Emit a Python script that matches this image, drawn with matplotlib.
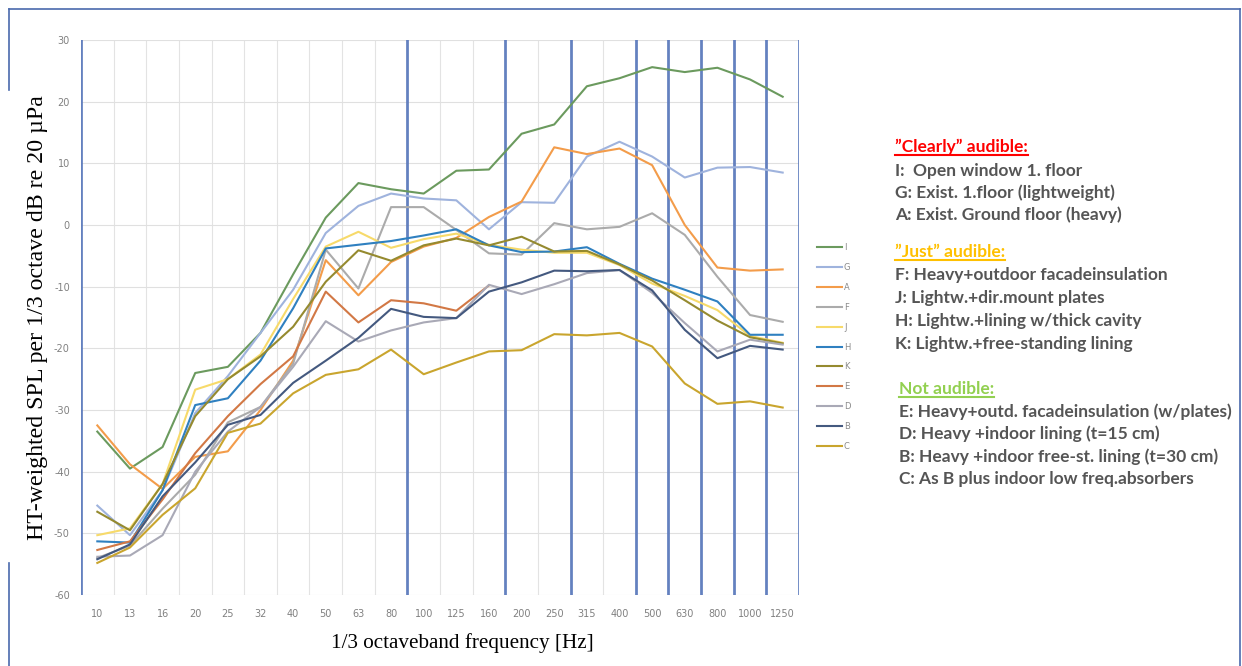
import numpy as np
import matplotlib
matplotlib.use("Agg")
import matplotlib.pyplot as plt
from matplotlib.lines import Line2D

plt.rcParams["axes.unicode_minus"] = False

freqs = ["10", "13", "16", "20", "25", "32", "40", "50", "63", "80", "100", "125",
         "160", "200", "250", "315", "400", "500", "630", "800", "1000", "1250"]

# HT-weighted SPL per 1/3 octave band
I = [-33.5, -39.5, -36, -24, -23, -17.5, -8, 1.2, 6.8, 5.8, 5.1, 8.8, 9.0, 14.8, 16.3, 22.5, 23.8, 25.6, 24.8, 25.5, 23.6, 20.8]
G = [-45.5, -50.3, -43, -30.5, -24.5, -17.5, -10.5, -1.3, 3.1, 5.1, 4.3, 4.0, -0.7, 3.7, 3.6, 11.1, 13.5, 11.1, 7.7, 9.3, 9.4, 8.5]
A = [-32.5, -38.8, -42.8, -37.6, -36.7, -30, -22, -5.7, -11.4, -6.0, -3.5, -2.1, 1.3, 3.8, 12.6, 11.5, 12.4, 9.7, 0.0, -6.9, -7.4, -7.2]
F = [-54, -52, -46, -40.5, -32, -29.5, -22.5, -4.0, -10.3, 2.9, 2.9, -0.8, -4.6, -4.8, 0.3, -0.7, -0.3, 1.9, -1.6, -8.4, -14.6, -15.7]
J = [-50.3, -49.2, -42, -26.7, -25, -21, -12, -3.5, -1.1, -3.7, -2.3, -1.4, -3.2, -4.0, -4.5, -4.5, -6.5, -9.5, -11.5, -13.8, -18.0, -19.1]
H = [-51.3, -51.5, -43, -29.2, -28.1, -22, -13.5, -3.8, -3.2, -2.6, -1.7, -0.7, -3.3, -4.4, -4.3, -3.6, -6.3, -8.7, -10.5, -12.4, -17.8, -17.8]
K = [-46.5, -49.5, -42, -31, -25, -21.3, -16.5, -9.2, -4.1, -5.8, -3.3, -2.2, -3.3, -1.9, -4.3, -4.2, -6.4, -9.0, -12.2, -15.5, -18.2, -19.2]
E = [-52.7, -51.3, -44.5, -37, -31, -25.8, -21.3, -10.8, -15.8, -12.2, -12.7, -13.9, -9.8] + [np.nan] * 9
D = [-53.8, -53.6, -50.3, -40, -33.5, -29.5, -23, -15.6, -18.9, -17.1, -15.8, -15.1, -9.7, -11.2, -9.6, -7.8, -7.3, -11.0, -15.9, -20.5, -18.6, -19.4]
B = [-54.2, -51.8, -44, -38.5, -32.4, -30.8, -25.6, -22, -18.3, -13.6, -14.9, -15.1, -10.8, -9.3, -7.4, -7.5, -7.3, -10.6, -17.0, -21.6, -19.6, -20.2]
C = [-54.8, -52.3, -47, -42.7, -33.7, -32.2, -27.3, -24.3, -23.4, -20.2, -24.2, -22.3, -20.5, -20.3, -17.7, -17.9, -17.5, -19.7, -25.7, -29.0, -28.6, -29.6]

names = ["I", "G", "A", "F", "J", "H", "K", "E", "D", "B", "C"]
series = [I, G, A, F, J, H, K, E, D, B, C]
colors = ["#6b9a5e", "#9fb3dd", "#f39c4a", "#ababab", "#f7da6a", "#2f80c0",
          "#958a2f", "#d27845", "#a9a9b6", "#44597f", "#c9a52e"]

# band edges marked with the heavy blue dividers
dividers = [-0.5, 9.5, 12.5, 14.5, 16.5, 17.5, 18.5, 19.5, 20.5, 21.5]

W, H_PX = 1242, 666
fig = plt.figure(figsize=(W / 100, H_PX / 100), dpi=100)
ax = fig.add_axes([81 / W, 1 - 595 / H_PX, 718 / W, 555 / H_PX])

x = np.arange(len(freqs))
for xb in np.arange(-0.5, len(freqs), 1.0):
    ax.axvline(xb, color="#e3e3e3", lw=0.8, zorder=0)
for yv in range(-60, 31, 10):
    ax.axhline(yv, color="#e0e0e0", lw=0.8, zorder=0)
for xb in dividers:
    ax.axvline(xb, color="#5676bb", lw=2.0, alpha=0.9, zorder=1)

for name, vals, col in zip(names, series, colors):
    ax.plot(x, vals, color=col, lw=1.5, label=name, zorder=2)

ax.set_xlim(-0.5, len(freqs) - 0.5)
ax.set_ylim(-60, 30)
ax.set_xticks(x)
ax.set_xticklabels(freqs)
ax.set_yticks(range(-60, 31, 10))
ax.tick_params(length=0, labelsize=7, colors="#808080")
ax.tick_params(axis="x", pad=10)
ax.tick_params(axis="y", pad=8)
for s in ax.spines.values():
    s.set_visible(False)

fig.legend(loc="upper left", bbox_to_anchor=(814 / W, 1 - 240 / H_PX), frameon=False,
           fontsize=6, labelcolor="#8a8a8a", handlelength=2.9, handletextpad=0.3,
           labelspacing=1.3, borderaxespad=0)

fig.text(38 / W, 1 - 318 / H_PX, "HT-weighted SPL per 1/3 octave dB re 20 \u00b5Pa",
         rotation=90, ha="center", va="center", fontsize=17.2, family="Liberation Serif")
fig.text(462 / W, 1 - 643 / H_PX, "1/3 octaveband frequency [Hz]",
         ha="center", va="center", fontsize=15.2, family="Liberation Serif")

# outer frame (left side broken where the y label sits)
fc = "#4a6aad"
for xs, ys in [((9, 1240), (9, 9)), ((1240, 1240), (9, 666)), ((9, 9), (9, 90)), ((9, 9), (563, 666))]:
    fig.add_artist(Line2D([v / W for v in xs], [1 - v / H_PX for v in ys], color=fc, lw=1.2))

tfont = dict(family="Lato", fontweight="bold", fontsize=12.5)
grey = "#555555"
blocks = [
    (895, 151.7, "\u201dClearly\u201d audible:", "#ff0000",
     [(175.7, "I:  Open window 1. floor"), (197.7, "G: Exist. 1.floor (lightweight)"),
      (220.0, "A: Exist. Ground floor (heavy)")]),
    (895, 256.7, "\u201dJust\u201d audible:", "#ffc000",
     [(280.0, "F: Heavy+outdoor facadeinsulation"), (303.0, "J: Lightw.+dir.mount plates"),
      (325.7, "H: Lightw.+lining w/thick cavity"), (349.0, "K: Lightw.+free-standing lining")]),
    (899, 394.0, "Not audible:", "#92d050",
     [(416.7, "E: Heavy+outd. facadeinsulation (w/plates)"), (439.0, "D: Heavy +indoor lining (t=15 cm)"),
      (461.7, "B: Heavy +indoor free-st. lining (t=30 cm)"), (484.3, "C: As B plus indoor low freq.absorbers")]),
]
heads = []
for x0, yh, head, hc, lines in blocks:
    t = fig.text(x0 / W, 1 - yh / H_PX, head, color=hc, va="baseline", **tfont)
    heads.append((t, yh, hc))
    for yl, s in lines:
        fig.text(x0 / W, 1 - yl / H_PX, s, color=grey, va="baseline", **tfont)

fig.canvas.draw()
r = fig.canvas.get_renderer()
for t, yh, hc in heads:
    bb = t.get_window_extent(r)
    yu = 1 - (yh + 2.8) / H_PX
    fig.add_artist(Line2D([bb.x0 / W, bb.x1 / W], [yu, yu], color=hc, lw=1.5))

fig.savefig("out.png", dpi=100)
